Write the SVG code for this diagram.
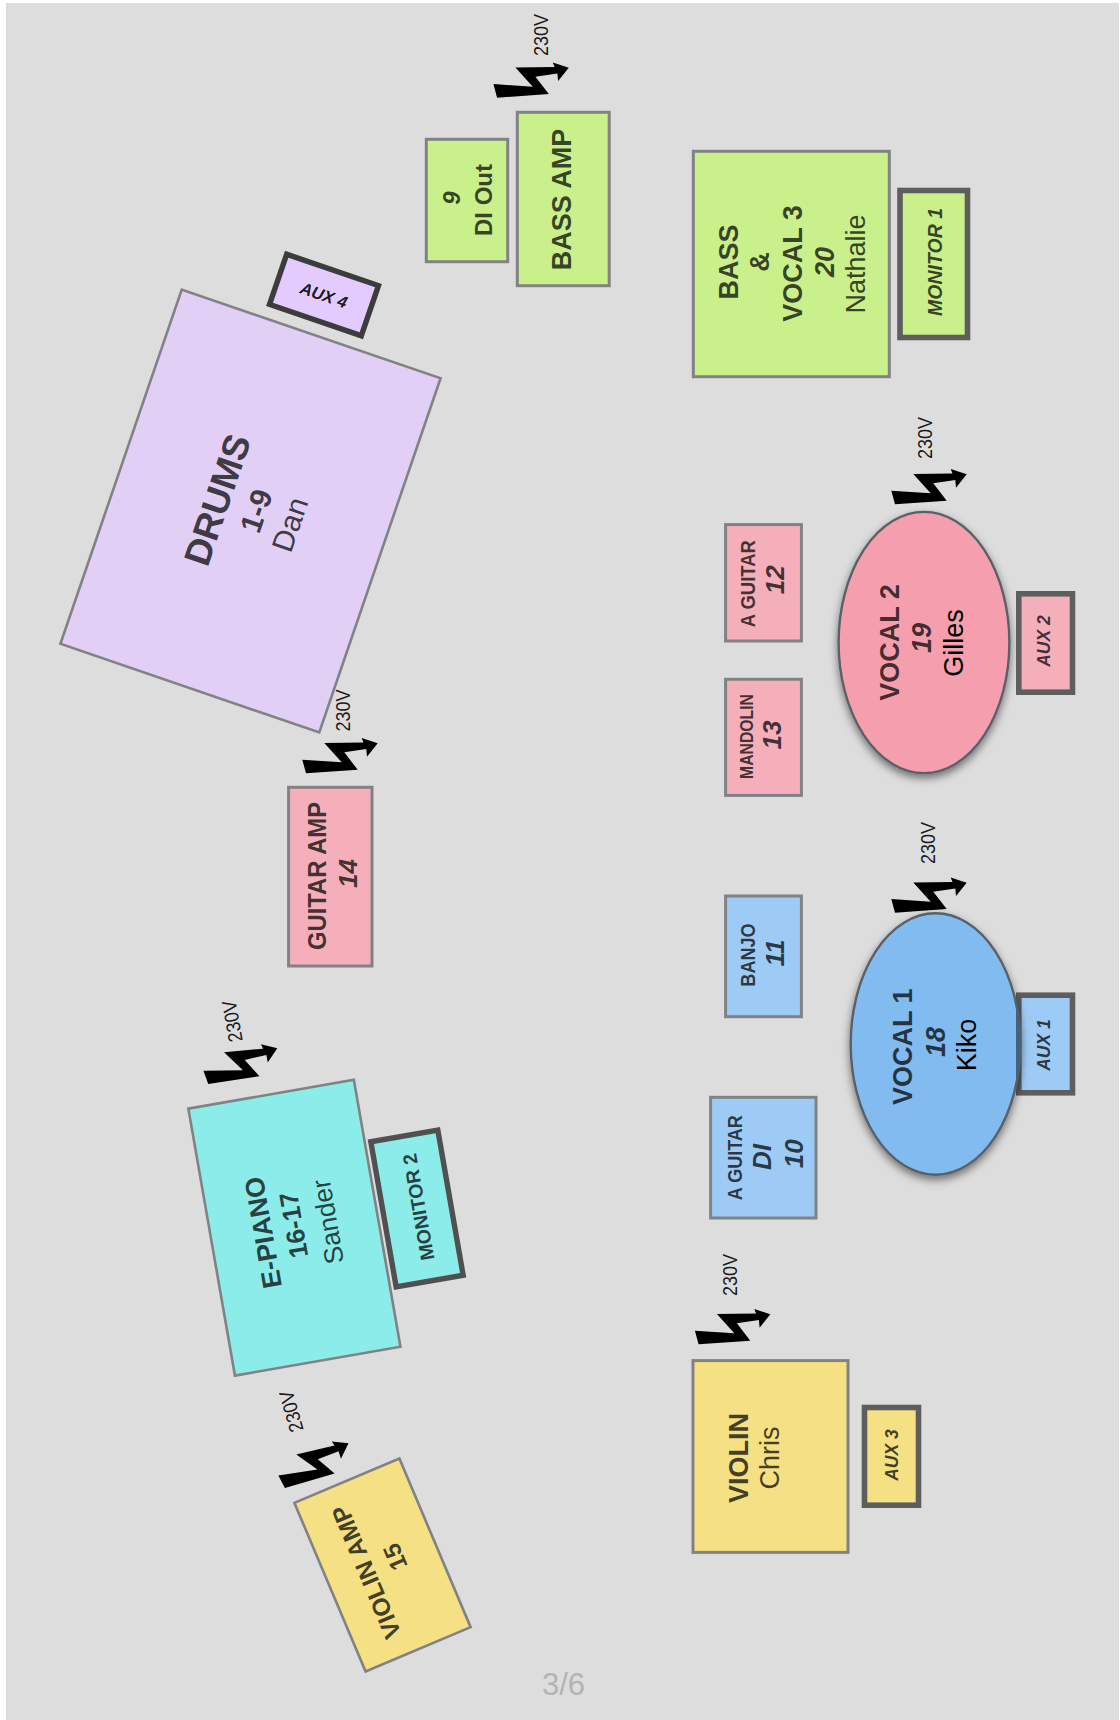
<svg xmlns="http://www.w3.org/2000/svg" width="1120" height="1720" viewBox="0 0 1120 1720">
<style>
text{font-family:"Liberation Sans",Arial,sans-serif;text-anchor:middle;fill:#000;fill-opacity:.74}
.b{font-weight:bold}
.bi{font-weight:bold;font-style:italic}
.k{fill-opacity:1}
.v{font-size:20px;fill-opacity:.9}
.n{stroke:#808284;stroke-width:3}
.t{stroke-width:2.6}
.m{stroke:#5e5e5e;stroke-width:5.6}
.gr{fill:#c9f08b}.pu{fill:#e1cff5}.pk{fill:#f5afbb}.bl{fill:#9ecbf5}.cy{fill:#8cecea}.ye{fill:#f5e084}
.e{stroke:#5a6068;stroke-width:2.4;filter:url(#sh)}
</style>
<defs>
<filter id="sh" x="-15%" y="-15%" width="130%" height="130%"><feDropShadow dx="0" dy="4" stdDeviation="4" flood-color="#000" flood-opacity=".5"/></filter>
<polygon id="bolt" points="11.3,30.7 50.7,33.3 33.3,14 72.5,13.5 70.7,9 86.7,14.3 76,27.7 75.3,20 53.3,23.3 66.7,40.7 15,44.3"/>
<clipPath id="v1c"><ellipse cx="935.5" cy="1044" rx="85.5" ry="131"/></clipPath>
</defs>
<rect x="6" y="3" width="1113" height="1717" fill="#dddddd"/>

<g id="power">
<use href="#bolt" x="482.1" y="53.4"/>
<use href="#bolt" x="291" y="729"/>
<use href="#bolt" x="880" y="460"/>
<use href="#bolt" x="880" y="868.4"/>
<use href="#bolt" x="683.6" y="1300"/>
<use href="#bolt" transform="translate(277.3,1048.3) rotate(-4.6) translate(-86.7,-14.3)"/>
<use href="#bolt" transform="translate(348.5,1443.3) rotate(-12.4) translate(-86.7,-14.3)"/>
<text class="v" textLength="42" lengthAdjust="spacingAndGlyphs" transform="translate(547.5,35) rotate(-90)">230V</text>
<text class="v" textLength="42" lengthAdjust="spacingAndGlyphs" transform="translate(350,710.5) rotate(-90)">230V</text>
<text class="v" textLength="42" lengthAdjust="spacingAndGlyphs" transform="translate(932.3,438) rotate(-90)">230V</text>
<text class="v" textLength="42" lengthAdjust="spacingAndGlyphs" transform="translate(935,843) rotate(-90)">230V</text>
<text class="v" textLength="42" lengthAdjust="spacingAndGlyphs" transform="translate(737.3,1275) rotate(-90)">230V</text>
<text class="v" textLength="42" lengthAdjust="spacingAndGlyphs" transform="translate(239,1020) rotate(-100)">230V</text>
<text class="v" textLength="42" lengthAdjust="spacingAndGlyphs" transform="translate(298,1409.5) rotate(-106)">230V</text>
</g>

<g id="di-out">
<rect class="n gr" x="426.3" y="139.3" width="81.4" height="122.4"/>
<text class="bi" font-size="24" transform="translate(459.5,198) rotate(-90)">9</text>
<text class="b" font-size="24" transform="translate(491.5,200) rotate(-90)">DI Out</text>
</g>
<g id="bass-amp">
<rect class="n gr" x="517.3" y="112.3" width="91.9" height="173.4"/>
<text class="b" font-size="27" transform="translate(570.5,199.5) rotate(-90)">BASS AMP</text>
</g>
<g id="bass-vocal3">
<rect class="n gr" x="693.3" y="151.3" width="196" height="225.4"/>
<text class="b" font-size="27" transform="translate(737.5,262) rotate(-90)">BASS</text>
<text class="b" font-size="27" transform="translate(769,262) rotate(-90)">&amp;</text>
<text class="b" font-size="27" transform="translate(801.5,263.5) rotate(-90)">VOCAL 3</text>
<text class="bi" font-size="27" transform="translate(833.5,262) rotate(-90)">20</text>
<text font-size="27" transform="translate(865,264) rotate(-90)">Nathalie</text>
</g>
<g id="monitor1">
<rect class="m gr" x="900" y="190.5" width="67.5" height="147"/>
<text class="bi" font-size="19.5" transform="translate(941.5,262) rotate(-90)">MONITOR 1</text>
</g>

<g id="drums" transform="translate(250.5,511) rotate(18.9)">
<rect class="n t pu" x="-136.8" y="-187.2" width="273.6" height="374.4"/>
<g transform="rotate(-90)">
<text class="b" font-size="37" x="0" y="-22.3">DRUMS</text>
<text class="b" font-size="30" x="2" y="15.8">1-9</text>
<text font-size="30" x="0" y="52">Dan</text>
</g>
</g>
<g id="aux4" transform="translate(324,295) rotate(18.9)">
<rect x="-48.5" y="-26.5" width="97" height="53" fill="#e3cbff" stroke="#3c3c3c" stroke-width="5.4"/>
<text class="bi" font-size="16.5" x="0" y="6" style="fill-opacity:.9">AUX 4</text>
</g>

<g id="guitar-amp">
<rect class="n pk" x="288.6" y="787.3" width="83.4" height="178.7"/>
<text class="b" font-size="26" textLength="148" lengthAdjust="spacingAndGlyphs" transform="translate(325.5,876) rotate(-90)">GUITAR AMP</text>
<text class="bi" font-size="26" transform="translate(357,873.5) rotate(-90)">14</text>
</g>
<g id="a-guitar-12">
<rect class="n pk" x="725.6" y="524.6" width="75.8" height="116.4"/>
<text class="b" font-size="21" textLength="87" lengthAdjust="spacingAndGlyphs" transform="translate(755,583.7) rotate(-90)">A GUITAR</text>
<text class="bi" font-size="26" transform="translate(783.5,579.7) rotate(-90)">12</text>
</g>
<g id="mandolin-13">
<rect class="n pk" x="725.6" y="679.3" width="75.8" height="116.1"/>
<text class="b" font-size="17.6" textLength="85" lengthAdjust="spacingAndGlyphs" transform="translate(753,736.5) rotate(-90)">MANDOLIN</text>
<text class="bi" font-size="26" transform="translate(781,735) rotate(-90)">13</text>
</g>
<g id="vocal2">
<ellipse class="e" cx="924" cy="642.5" rx="85.4" ry="130.6" fill="#f59fae"/>
<text class="b" font-size="27" transform="translate(899,642.5) rotate(-90)">VOCAL 2</text>
<text class="bi" font-size="27" transform="translate(931,638) rotate(-90)">19</text>
<text class="k" font-size="27" transform="translate(962.5,643) rotate(-90)">Gilles</text>
</g>
<g id="aux2">
<rect class="m pk" x="1018.8" y="593.8" width="53.7" height="98.4"/>
<text class="bi" font-size="17.5" transform="translate(1049.5,641) rotate(-90)">AUX 2</text>
</g>

<g id="banjo-11">
<rect class="n bl" x="725.6" y="896" width="75.8" height="120.7"/>
<text class="b" font-size="21" textLength="63.4" lengthAdjust="spacingAndGlyphs" transform="translate(755,955) rotate(-90)">BANJO</text>
<text class="bi" font-size="26" transform="translate(783.5,953) rotate(-90)">11</text>
</g>
<g id="a-guitar-di-10">
<rect class="n bl" x="710.6" y="1097.3" width="105.4" height="120.7"/>
<text class="b" font-size="21" textLength="85" lengthAdjust="spacingAndGlyphs" transform="translate(742,1157.7) rotate(-90)">A GUITAR</text>
<text class="bi" font-size="26" transform="translate(770.5,1157) rotate(-90)">DI</text>
<text class="bi" font-size="26" transform="translate(803,1153.7) rotate(-90)">10</text>
</g>
<g id="aux1">
<rect class="m bl" x="1018.8" y="995.2" width="53.7" height="97.6"/>
<text class="bi" font-size="17.5" transform="translate(1049.5,1045) rotate(-90)">AUX 1</text>
</g>
<g id="vocal1">
<ellipse class="e" cx="935.5" cy="1044" rx="84.8" ry="130.7" fill="#82bbf0"/>
<rect x="1016" y="992.4" width="5" height="103" fill="#46617d" clip-path="url(#v1c)"/>
<text class="b" font-size="27" transform="translate(912,1046.7) rotate(-90)">VOCAL 1</text>
<text class="bi" font-size="27" transform="translate(944.5,1042) rotate(-90)">18</text>
<text class="k" font-size="27" transform="translate(976,1045) rotate(-90)">Kiko</text>
</g>

<g id="e-piano" transform="translate(294.4,1227.7) rotate(-9.9)">
<rect class="n t cy" x="-84" y="-135.5" width="168" height="271"/>
<g transform="rotate(-90)">
<text class="b" font-size="27" x="0.5" y="-22.4">E-PIANO</text>
<text class="b" font-size="26" x="2.8" y="8.7">16-17</text>
<text font-size="26.5" x="0.2" y="43">Sander</text>
</g>
</g>
<g id="monitor2" transform="translate(417,1208.5) rotate(-9.9)">
<rect x="-34" y="-73.7" width="68" height="147.4" fill="#8cecea" stroke="#505050" stroke-width="5.4"/>
<text class="b" font-size="19.5" transform="rotate(-90)" x="1.3" y="8.5">MONITOR 2</text>
</g>

<g id="violin-amp" transform="translate(382.5,1565) rotate(-22.9)">
<rect class="n t ye" x="-57" y="-91.5" width="114" height="183"/>
<g transform="rotate(-90)">
<text class="b" font-size="24.5" y="-9">VIOLIN AMP</text>
<text class="b" font-size="24" x="2.5" y="23">15</text>
</g>
</g>
<g id="violin">
<rect class="n ye" x="693" y="1360.6" width="155" height="191.8"/>
<text class="b" font-size="27" transform="translate(747.5,1458) rotate(-90)">VIOLIN</text>
<text font-size="27" transform="translate(779,1458) rotate(-90)">Chris</text>
</g>
<g id="aux3">
<rect class="m ye" x="864.5" y="1407.5" width="54" height="97.7"/>
<text class="bi" font-size="17.5" transform="translate(897.5,1455) rotate(-90)">AUX 3</text>
</g>
<text id="page" x="563.5" y="1695" font-size="31" style="fill:#b3b3b3;fill-opacity:1">3/6</text>
</svg>
